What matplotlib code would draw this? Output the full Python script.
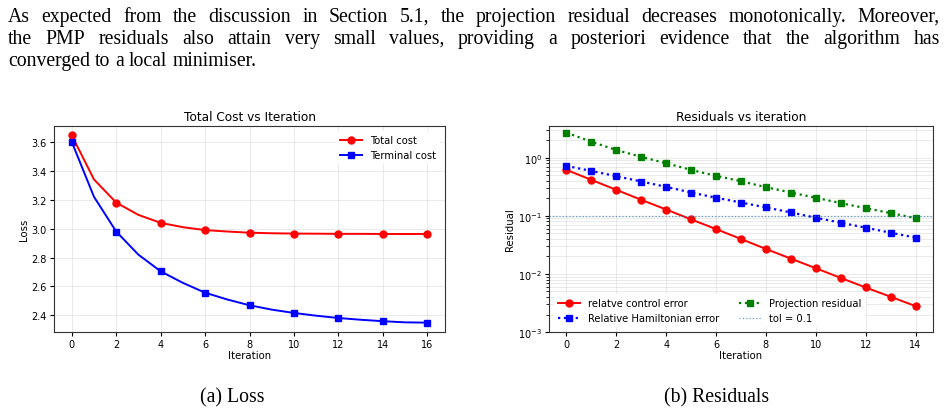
import matplotlib
matplotlib.use("Agg")
import matplotlib.pyplot as plt

# ---- data ----
loss_iters = list(range(17))
total_cost = [3.645, 3.34, 3.18, 3.095, 3.04, 3.01, 2.99, 2.98, 2.972, 2.968,
              2.966, 2.965, 2.964, 2.964, 2.963, 2.963, 2.963]
terminal_cost = [3.60, 3.22, 2.98, 2.82, 2.705, 2.625, 2.557, 2.51, 2.47, 2.44,
                 2.417, 2.398, 2.382, 2.37, 2.36, 2.352, 2.35]

res_iters = list(range(15))
control_err = [0.615, 0.414, 0.279, 0.188, 0.128, 0.0865, 0.059, 0.0398, 0.0268,
               0.0183, 0.0125, 0.00853, 0.00583, 0.00404, 0.00279]
hamiltonian_err = [0.72, 0.59, 0.479, 0.388, 0.314, 0.251, 0.204, 0.169, 0.139,
                   0.114, 0.0924, 0.0759, 0.0623, 0.0511, 0.042]
projection_res = [2.68, 1.88, 1.35, 1.03, 0.80, 0.615, 0.485, 0.393, 0.31, 0.251,
                  0.204, 0.165, 0.135, 0.111, 0.091]
tol = 0.1

paragraph = [
    "As expected from the discussion in Section 5.1, the projection residual decreases monotonically. Moreover,",
    "the PMP residuals also attain very small values, providing a posteriori evidence that the algorithm has",
    "converged to a local minimiser.",
]
captions = ["(a) Loss", "(b) Residuals"]

W, H = 947, 414
fig = plt.figure(figsize=(W / 100, H / 100), dpi=100)

def px_axes(l, t, r, b):
    return fig.add_axes([l / W, 1 - b / H, (r - l) / W, (b - t) / H])

tick_fs = 7
lab_fs = 7.3
leg_fs = 7.2
title_fs = 8.7
serif = ["Liberation Serif", "DejaVu Serif"]

# ---- left: loss ----
ax1 = px_axes(54, 127, 445, 333)
ax1.plot(loss_iters, total_cost, color="red", marker="o", markevery=2,
         markersize=5, linewidth=1.4, label="Total cost")
ax1.plot(loss_iters, terminal_cost, color="blue", marker="s", markevery=2,
         markersize=5, linewidth=1.4, label="Terminal cost")
ax1.set_xticks(range(0, 17, 2))
ax1.set_title("Total Cost vs Iteration", fontsize=title_fs, pad=4)
ax1.set_xlabel("Iteration", fontsize=lab_fs, labelpad=1)
ax1.set_ylabel("Loss", fontsize=lab_fs, labelpad=2)
ax1.grid(True, alpha=0.3, linewidth=0.6)
ax1.legend(loc="upper right", fontsize=leg_fs, edgecolor="none",
           framealpha=1, handlelength=2.2)

# ---- right: residuals ----
ax2 = px_axes(549, 127, 933, 333)
ax2.semilogy(res_iters, control_err, color="red", marker="o", markersize=5,
             linewidth=1.4, label="relatve control error")
ax2.semilogy(res_iters, hamiltonian_err, color="blue", marker="s", markersize=5,
             linewidth=1.6, linestyle=":", label="Relative Hamiltonian error")
ax2.semilogy(res_iters, projection_res, color="green", marker="s", markersize=5,
             linewidth=1.6, linestyle=":", label="Projection residual")
ax2.axhline(tol, color="tab:blue", linestyle=":", linewidth=0.9, alpha=0.7,
            label=f"tol = {tol}")
ax2.set_ylim(1e-3, 3.5)
ax2.set_xticks(range(0, 15, 2))
ax2.set_title("Residuals vs iteration", fontsize=title_fs, pad=4)
ax2.set_xlabel("Iteration", fontsize=lab_fs, labelpad=1)
ax2.set_ylabel("Residual", fontsize=lab_fs, labelpad=2)
ax2.grid(True, which="both", alpha=0.3, linewidth=0.6)
ax2.legend(loc="lower left", ncol=2, fontsize=leg_fs, edgecolor="none",
           framealpha=1, handlelength=2.2, columnspacing=2.0)

for ax in (ax1, ax2):
    ax.tick_params(labelsize=tick_fs, length=3, pad=2)
    for s in ax.spines.values():
        s.set_linewidth(0.8)
        s.set_color("0.2")

# ---- paragraph, justified ----
renderer = fig.canvas.get_renderer()
left, right = 8, 940
baselines = [22, 44, 66]

# size the font from the first line, a bit under its natural fit
probe = fig.text(0, 0, paragraph[0], fontsize=10, family=serif)
fs = 0.91 * 10 * (right - left) / probe.get_window_extent(renderer).width
probe.remove()

for i, line in enumerate(paragraph):
    words = line.split(" ")
    texts = [fig.text(0, 0, w, fontsize=fs, family=serif, va="baseline")
             for w in words]
    widths = [t.get_window_extent(renderer).width for t in texts]
    space = fs * 100 / 72 * 0.25
    if i < len(paragraph) - 1:
        space = (right - left - sum(widths)) / (len(words) - 1)
    x = left
    for t, w in zip(texts, widths):
        t.set_position((x / W, 1 - baselines[i] / H))
        x += w + space

fig.text(232 / W, 1 - 402 / H, captions[0], fontsize=fs, family=serif,
         ha="center", va="baseline")
fig.text(717 / W, 1 - 402 / H, captions[1], fontsize=fs, family=serif,
         ha="center", va="baseline")

fig.savefig("out.png", dpi=100)
